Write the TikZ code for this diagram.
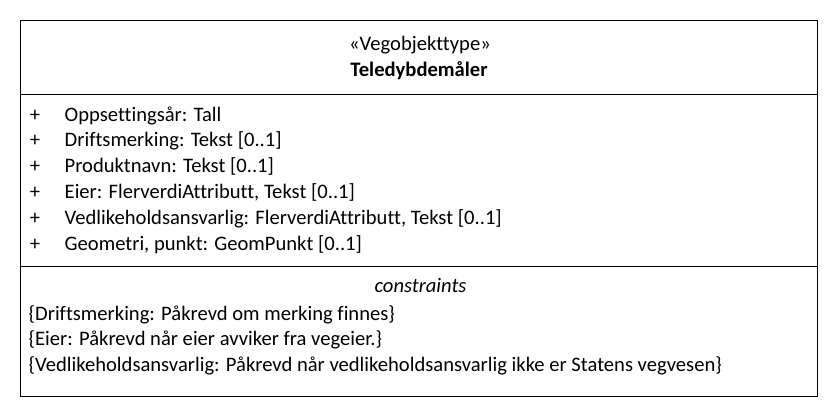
\documentclass[tikz,border=0pt]{standalone}
\usepackage{fontspec}
\setmainfont{Carlito}[Ligatures={NoCommon}]
\newcommand{\umlfont}{\fontsize{20.6}{24}\selectfont}
\begin{document}
\begin{tikzpicture}[x=1pt,y=-1pt,
  txt/.style={inner sep=0pt, anchor=base west, font=\umlfont},
  ctr/.style={inner sep=0pt, anchor=base, font=\umlfont},
  frame/.style={draw=black, line width=1pt}]
\useasboundingbox (0,0) rectangle (838,418);
% class box with its three compartments
\coordinate (nw) at (20.5,20.5);
\coordinate (se) at (817,396.7);
\coordinate (d1w) at (20.5,94.3);
\coordinate (d1e) at (817,94.3);
\coordinate (d2w) at (20.5,266);
\coordinate (d2e) at (817,266);
\draw[frame] (nw) rectangle (se);
\draw[frame] (d1w) -- (d1e);
\draw[frame] (d2w) -- (d2e);
% name compartment
\node[ctr] (stereo) at (420,50.7) {«Vegobjekttype»};
\node[ctr, font=\umlfont\bfseries] (name) at (419,76.6) {Teledybdemåler};
% attributes
\foreach \i/\t in {0/{Oppsettingsår: Tall},
                   1/{Driftsmerking: Tekst [0..1]},
                   2/{Produktnavn: Tekst [0..1]},
                   3/{Eier: FlerverdiAttributt, Tekst [0..1]},
                   4/{Vedlikeholdsansvarlig: FlerverdiAttributt, Tekst [0..1]},
                   5/{Geometri, punkt: GeomPunkt [0..1]}} {
  \node[ctr] (vis\i) at (35,121+25.9*\i) {+};
  \node[txt] (attr\i) at (64.5,121+25.9*\i) {\t};
}
% constraints
\node[ctr, font=\umlfont\itshape] (ctitle) at (420.5,292.3) {constraints};
\node[txt] (c1) at (28.5,320) {\{Driftsmerking: Påkrevd om merking finnes\}};
\node[txt] (c2) at (28.5,345.8) {\{Eier: Påkrevd når eier avviker fra vegeier.\}};
\node[txt] (c3) at (28.5,371.6) {\{Vedlikeholdsansvarlig: Påkrevd når vedlikeholdsansvarlig ikke er Statens vegvesen\}};
\end{tikzpicture}
\end{document}
